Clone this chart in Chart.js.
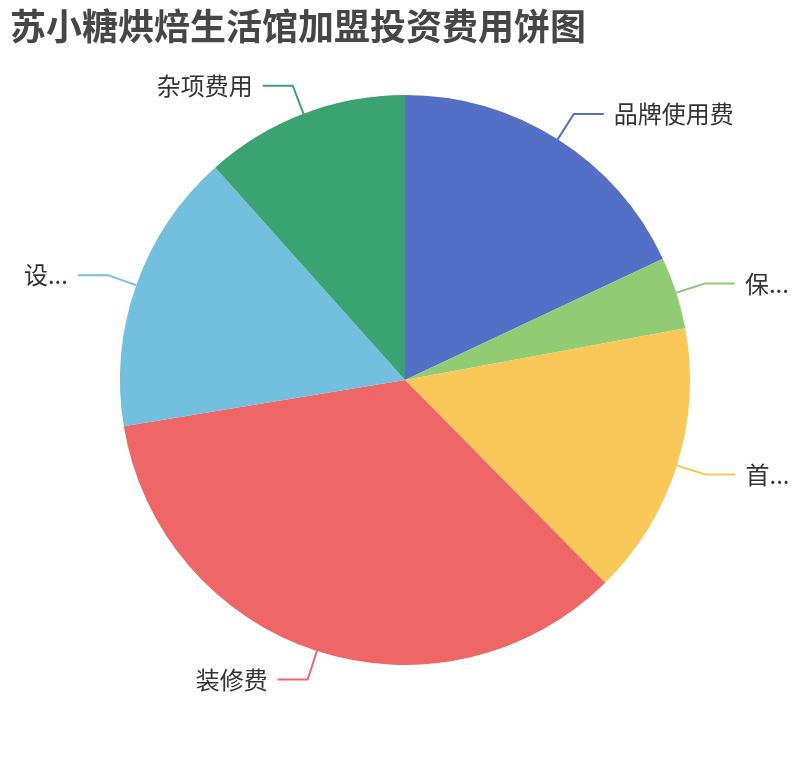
<!DOCTYPE html>
<html>
<head>
<meta charset="utf-8">
<script src="https://cdn.jsdelivr.net/npm/chart.js@4.4.0/dist/chart.umd.min.js"></script>
<style>
  html, body { margin: 0; padding: 0; background: #fff; }
  #wrap { position: relative; width: 810px; height: 760px; }
</style>
</head>
<body>
<div id="wrap"><canvas id="c" width="810" height="760"></canvas></div>
<script>
const chartTitle = '苏小糖烘焙生活馆加盟投资费用饼图';
const categories = ['品牌使用费', '保...', '首...', '装修费', '设...', '杂项费用'];
const shareValues = [18.0, 4.1, 15.5, 34.8, 16.0, 11.6];
const sliceColors = ['#5470c6', '#91cc75', '#fac858', '#ee6666', '#73c0de', '#3ba272'];

const titlePlugin = {
  id: 'echartsTitle',
  afterDraw(chart) {
    const ctx = chart.ctx;
    ctx.save();
    ctx.font = 'bold 36px "Noto Sans CJK SC", "Noto Sans", sans-serif';
    ctx.fillStyle = '#464646';
    ctx.textAlign = 'left';
    ctx.textBaseline = 'middle';
    ctx.fillText(chartTitle, 10, 26);
    ctx.restore();
  }
};

const outsideLabels = {
  id: 'outsideLabels',
  afterDatasetsDraw(chart) {
    const ctx = chart.ctx;
    const meta = chart.getDatasetMeta(0);
    const len1 = 30, len2 = 30, gap = 10;
    ctx.save();
    ctx.font = '24px "Noto Sans CJK SC", "Noto Sans", sans-serif';
    ctx.textBaseline = 'middle';
    meta.data.forEach((arc, i) => {
      const p = arc.getProps(['x', 'y', 'startAngle', 'endAngle', 'outerRadius'], true);
      const a = (p.startAngle + p.endAngle) / 2;
      const cos = Math.cos(a), sin = Math.sin(a);
      const x0 = p.x + p.outerRadius * cos, y0 = p.y + p.outerRadius * sin;
      const x1 = p.x + (p.outerRadius + len1) * cos, y1 = p.y + (p.outerRadius + len1) * sin;
      const dir = cos >= 0 ? 1 : -1;
      const x2 = x1 + dir * len2;
      ctx.strokeStyle = sliceColors[i];
      ctx.lineWidth = 2;
      ctx.beginPath();
      ctx.moveTo(x0, y0);
      ctx.lineTo(x1, y1);
      ctx.lineTo(x2, y1);
      ctx.stroke();
      ctx.fillStyle = '#333';
      ctx.textAlign = dir > 0 ? 'left' : 'right';
      ctx.fillText(chart.data.labels[i], x2 + dir * gap, y1);
    });
    ctx.restore();
  }
};

new Chart(document.getElementById('c'), {
  type: 'pie',
  data: {
    labels: categories,
    datasets: [{
      data: shareValues,
      backgroundColor: sliceColors,
      borderWidth: 0,
      hoverOffset: 0
    }]
  },
  options: {
    responsive: false,
    animation: false,
    devicePixelRatio: 1,
    layout: { padding: { top: 95, bottom: 95, left: 120, right: 120 } },
    plugins: {
      legend: { display: false },
      tooltip: { enabled: false },
      title: { display: false }
    }
  },
  plugins: [titlePlugin, outsideLabels]
});
</script>
</body>
</html>
